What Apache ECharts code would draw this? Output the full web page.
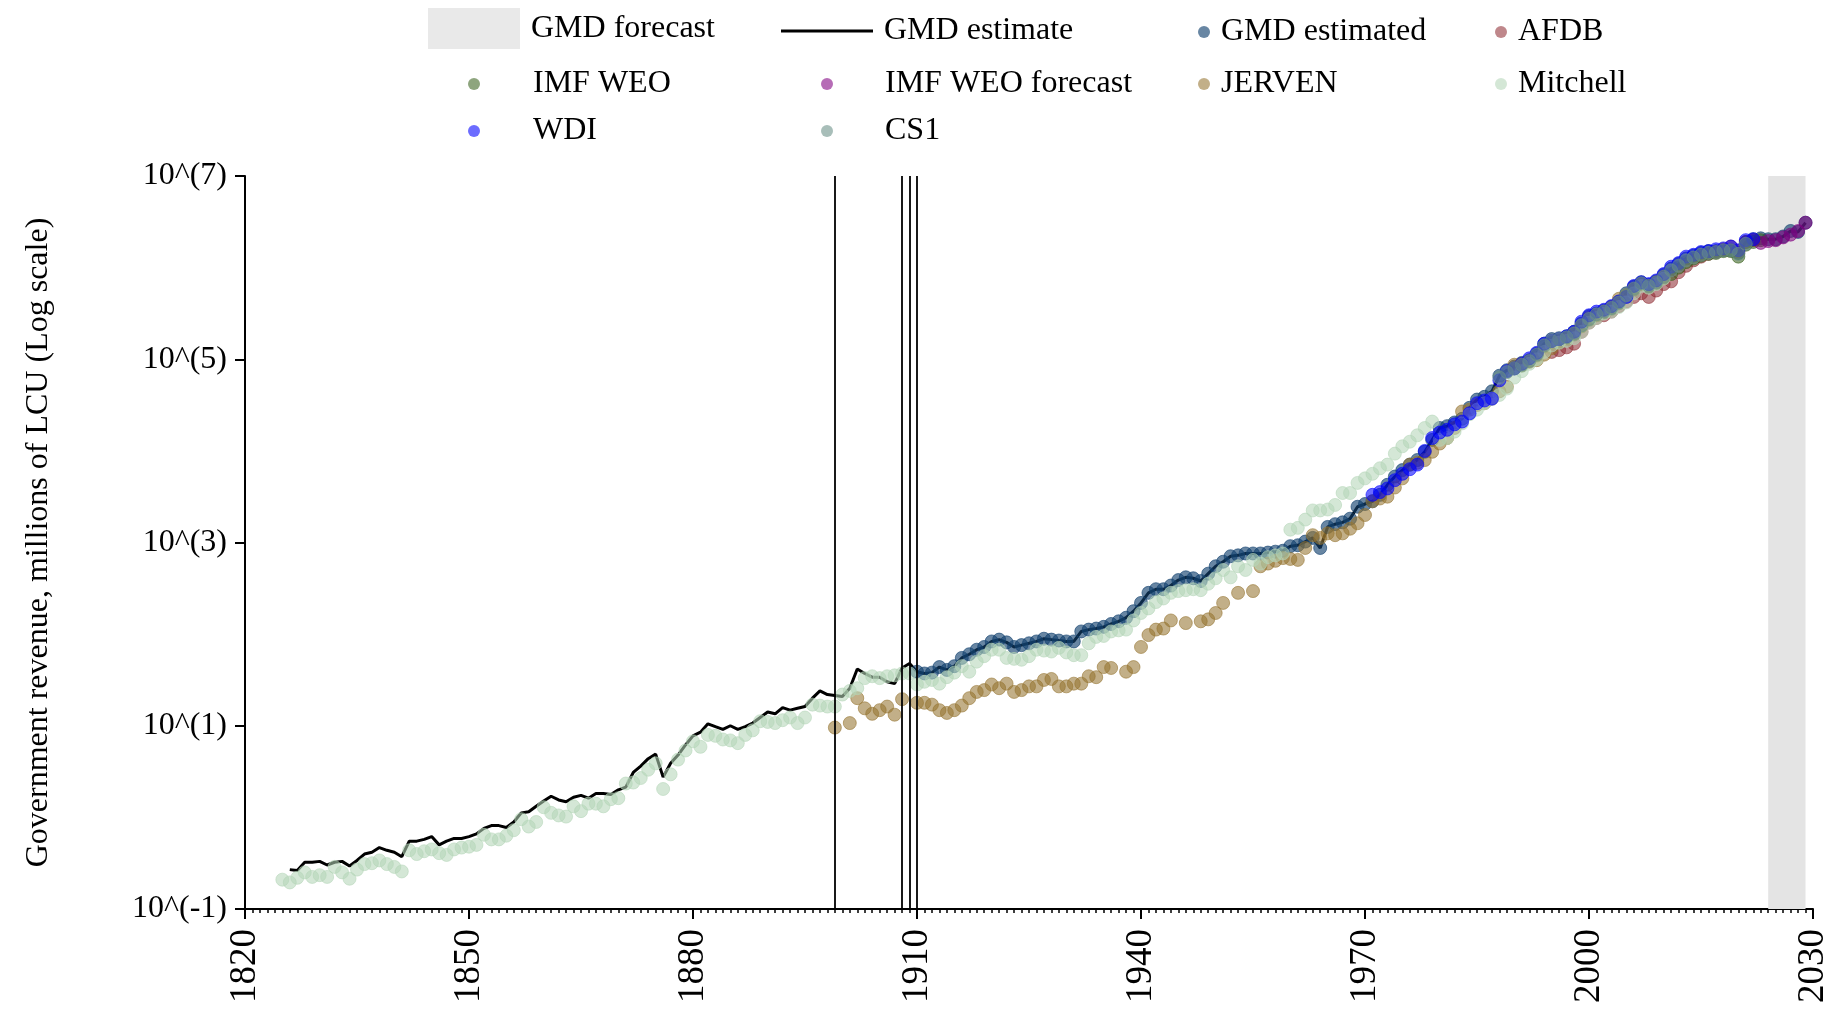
<!DOCTYPE html>
<html>
<head>
<meta charset="utf-8">
<script src="https://cdn.jsdelivr.net/npm/echarts@6/dist/echarts.min.js"></script>
<style>html,body{margin:0;padding:0;background:#fff}#chart{width:1837px;height:1015px}</style>
</head>
<body>
<div id="chart"></div>
<script>
// ---------------- DATA ----------------
const xRange = [1820, 2030];
const xStep = 30;
const yTicks = [0.1, 10, 1000, 100000, 10000000];
const forecastSpan = [2024, 2029];
const breakYears = [1899, 1908, 1909, 1910];

const gmdEstimateStart = 1826;
const gmdEstimate = [
  0.269, 0.263, 0.324, 0.324, 0.331, 0.302, 0.324, 0.331, 0.295, 0.339,
  0.398, 0.417, 0.468, 0.437, 0.417, 0.372, 0.550, 0.550, 0.575, 0.617,
  0.501, 0.550, 0.589, 0.589, 0.617, 0.661, 0.759, 0.813, 0.813, 0.776,
  0.891, 1.12, 1.15, 1.32, 1.51, 1.70, 1.55, 1.48, 1.66, 1.74,
  1.62, 1.82, 1.82, 1.78, 2.00, 2.14, 3.09, 3.63, 4.37, 4.90,
  2.75, 3.89, 4.79, 6.17, 7.76, 8.51, 10.5, 9.77, 9.12, 10.0,
  9.12, 9.77, 10.7, 12.3, 14.1, 13.5, 15.8, 14.8, 15.5, 16.2,
  20.0, 24.0, 21.9, 21.4, 20.9, 25.7, 41.7, 37.2, 33.9, 33.9,
  30.2, 28.8, 42.7, 47.9, 38.9, 37.2, 38.0, 43.7, 40.7, 44.7,
  55.0, 60.3, 67.6, 72.4, 83.2, 87.1, 81.3, 72.4, 75.9, 79.4,
  83.2, 89.1, 87.1, 85.1, 83.2, 83.2, 107, 112, 115, 120,
  129, 138, 151, 178, 219, 282, 309, 309, 339, 389,
  417, 407, 380, 457, 550, 617, 708, 724, 759, 759,
  759, 776, 794, 813, 912, 933, 1023, 1122, 871, 1479,
  1585, 1660, 1820, 2455, 2630, 2818, 3311, 4266, 5248, 6166,
  7079, 7943, 9772, 13180, 17780, 18620, 20420, 22390, 29510, 36310,
  38900, 44670, 66070, 75860, 83180, 91200, 97720, 114800, 147900, 166000,
  169800, 177800, 199500, 245500, 295100, 316200, 338800, 371500, 426600, 524800,
  616600, 691800, 645700, 707900, 831800, 977200, 1096000, 1259000, 1349000, 1445000,
  1514000, 1514000, 1549000, 1549000, 1445000, 1905000, 2042000, 2089000, 2042000, 2042000,
  2188000, 2512000, 2455000, 3090000
];
const gmdEstimatedFrom = 1910;

const mitchellStart = 1825;
const mitchell = [
  0.209, 0.195, 0.219, 0.251, 0.224, 0.234, 0.224, 0.288, 0.251, 0.214,
  0.269, 0.309, 0.316, 0.339, 0.309, 0.288, 0.257, 0.437, 0.398, 0.427,
  0.447, 0.407, 0.389, 0.447, 0.468, 0.479, 0.501, 0.646, 0.575, 0.575,
  0.631, 0.724, 0.955, 0.794, 0.891, 1.29, 1.12, 1.05, 1.02, 1.32,
  1.17, 1.41, 1.41, 1.32, 1.58, 1.62, 2.34, 2.40, 2.69, 3.31,
  3.89, 2.04, 2.95, 4.27, 5.37, 6.76, 5.89, 7.94, 7.76, 7.08,
  6.92, 6.46, 7.94, 8.91, 11.2, 11.0, 10.7, 11.5, 12.3, 10.7,
  12.3, 17.0, 16.6, 16.2, 16.2, 21.9, 24.0, 25.7, 33.1, 34.7,
  33.1, 34.7, 35.5, 37.2, 37.2, 28.2, 30.2, 31.6, 28.8, 33.9,
  38.0, 44.7, 38.9, 50.1, 57.5, 67.6, 67.6, 55.0, 53.7, 52.5,
  57.5, 67.6, 66.1, 64.6, 70.8, 63.1, 58.9, 58.9, 79.4, 93.3,
  95.5, 107, 110, 112, 141, 170, 191, 224, 245, 282,
  295, 302, 309, 302, 355, 407, 501, 417, 550, 501,
  646, 589, 692, 724, 759, 1380, 1445, 1778, 2239, 2239,
  2291, 2570, 3467, 3467, 4467, 5012, 5623, 6457, 7079, 9333,
  11220, 12590, 14790, 17780, 20890, 13180, 13800, 16220, 19950, 25120,
  28180, 33110, 37150, 40740, 47860, 63100, 74130, 89130, 100000, 120200,
  141300, 151400, 158500, 169800, 199500, 251200, 281800, 316200, 331100, 371500,
  416900, 524800, 631000, 602600, 660700, 758600
];

const jervenStart = 1899;
const jerven = [
  9.55, null, 10.7, 20.0, 15.5, 13.5, 14.8, 16.2, 13.2, 19.5,
  null, 17.8, 17.8, 17.0, 14.8, 13.8, 14.8, 16.6, 20.0, 23.4,
  24.5, 28.2, 25.7, 28.8, 23.4, 24.5, 26.9, 26.9, 31.6, 32.4,
  26.9, 26.9, 28.8, 28.8, 34.7, 33.9, 43.7, 42.7, null, 38.9,
  43.7, 72.4, 97.7, 112, 115, 141, null, 132, null, 138,
  145, 170, 219, null, 282, null, 295, 550, 589, 631,
  676, 661, 646, 871, 1202, 1122, 1259, 1202, 1259, 1413,
  1622, 1995, 2818, 3020, 3162, 3981, 5012, 7079, 7413, 7943,
  9772, 12020, 13800, 17780, 26920, 28180, 31620, 33110, 37150, 44670,
  50120, 87100, 89130, 93330, 97720, 112200, 131800, 151400, 166000, 190500,
  229100, 281800, 302000, 331100, 371500, 457100, 501200, 588800, 660700, 631000,
  691800, 794300
];

const wdiStart = 1971;
const wdi = [
  3311, 3548, 3890, 4786, 5623, 6310, 7079, 10000, 13800, 15850,
  16980, 19500, 20890, 25700, 33110, 35480, 37150, 58880, 74130, 79430,
  89130, 102300, 117500, 147900, 158500, 166000, 177800, 199500, 257000, 302000,
  331100, 346700, 380200, 426600, 478600, 631000, 691800, 660700, 724400, 851100,
  1023000, 1122000, 1318000, 1380000, 1479000, 1514000, 1585000, 1622000, 1698000, 1549000,
  1995000, 2042000
];

const cs1Start = 1988;
const cs1 = [
  63100, 72440, 79430, 87100, 95500, 112200, 141300, 158500, 166000, 173800,
  190500, 234400, 275400, 309000, 331100, 363100, 416900, 501200, 588800, 676100,
  631000, 691800, 794300, 933300, 1047000, 1202000, 1288000, 1380000, 1445000, 1479000,
  1549000, 1549000, 1413000, 1820000
];

const afdbStart = 1995;
const afdb = [
  120200, 125900, 134900, 147900, 199500, 251200, 281800, 302000, 331100, 380200,
  426600, 478600, 524800, 478600, 562300, 660700, 707900, 891300, 1047000, 1202000,
  1318000, 1413000, 1479000, 1585000, 1698000, 1514000, 1905000, 1995000
];

const imfWeoStart = 1990;
const imfWeo = [
  79430, 85110, 95500, 109600, 138000, 151400, 158500, 169800, 186200, 229100,
  269200, 302000, 323600, 354800, 407400, 478600, 575400, 660700, 616600, 676100,
  776200, 851100, 1000000, 1148000, 1259000, 1349000, 1413000, 1445000, 1514000, 1514000,
  1318000, 1778000, 1905000, 1995000
];

const imfWeoForecastStart = 2023;
const imfWeoForecast = [1862000, 1950000, 1995000, 2138000, 2291000, 2512000, 3090000];

// ---------------- BUILD ----------------
const FONT = "'Liberation Serif','Times New Roman',serif";
function pairs(start, vals) {
  const out = [];
  vals.forEach(function (v, i) { if (v !== null) out.push([start + i, v]); });
  return out;
}
const gmdLine = pairs(gmdEstimateStart, gmdEstimate);
const gmdEstimatedPts = gmdLine.filter(function (p) { return p[0] >= gmdEstimatedFrom; });

const SYM = 13;
function scatter(name, color, data) {
  return {
    name: name, type: 'scatter', data: data, symbol: 'circle', symbolSize: SYM, z: 3,
    itemStyle: { color: color, borderColor: color, borderWidth: 1 },
    emphasis: { disabled: true }, silent: true
  };
}

const colors = {
  forecast: '#e4e4e4',
  estimate: '#000000',
  estimated: 'rgba(19,65,111,0.8)',
  afdb: 'rgba(144,47,53,0.72)',
  imfWeo: 'rgba(59,99,32,0.72)',
  imfWeoForecast: 'rgba(128,0,128,0.72)',
  jerven: 'rgba(150,116,48,0.72)',
  mitchell: 'rgba(180,213,184,0.72)',
  wdi: 'rgba(0,0,255,0.72)',
  cs1: 'rgba(104,142,134,0.72)'
};

const series = [
  {
    name: 'GMD forecast', type: 'scatter', data: [], z: 1,
    itemStyle: { color: colors.forecast }, silent: true,
    markArea: {
      silent: true, itemStyle: { color: colors.forecast },
      data: [[{ xAxis: forecastSpan[0] }, { xAxis: forecastSpan[1] }]]
    }
  },
  {
    name: 'GMD estimate', type: 'line', data: gmdLine, showSymbol: false, symbol: 'none', z: 2,
    itemStyle: { color: colors.estimate }, lineStyle: { color: colors.estimate, width: 3 },
    silent: true,
    markLine: {
      silent: true, symbol: 'none', label: { show: false },
      lineStyle: { color: '#000', width: 1.8, type: 'solid' },
      data: breakYears.map(function (y) { return { xAxis: y }; })
    }
  },
  scatter('GMD estimated', colors.estimated, gmdEstimatedPts),
  scatter('AFDB', colors.afdb, pairs(afdbStart, afdb)),
  scatter('IMF WEO', colors.imfWeo, pairs(imfWeoStart, imfWeo)),
  scatter('IMF WEO forecast', colors.imfWeoForecast, pairs(imfWeoForecastStart, imfWeoForecast)),
  scatter('JERVEN', colors.jerven, pairs(jervenStart, jerven)),
  scatter('Mitchell', colors.mitchell, pairs(mitchellStart, mitchell)),
  scatter('WDI', colors.wdi, pairs(wdiStart, wdi)),
  scatter('CS1', colors.cs1, pairs(cs1Start, cs1))
];

const legendLayout = [
  { name: 'GMD forecast', left: 428, top: 8, w: 92, h: 41, icon: 'rect', pad: 6 },
  { name: 'GMD estimate', left: 781, top: 15, w: 92, h: 3, icon: 'rect', pad: 6 },
  { name: 'GMD estimated', left: 1198, top: 16, w: 12, h: 12, icon: 'circle', pad: 6 },
  { name: 'AFDB', left: 1495, top: 16, w: 12, h: 12, icon: 'circle', pad: 6 },
  { name: 'IMF WEO', left: 468, top: 68, w: 12, h: 12, icon: 'circle', pad: 48 },
  { name: 'IMF WEO forecast', left: 821, top: 68, w: 12, h: 12, icon: 'circle', pad: 47 },
  { name: 'JERVEN', left: 1198, top: 68, w: 12, h: 12, icon: 'circle', pad: 6 },
  { name: 'Mitchell', left: 1495, top: 68, w: 12, h: 12, icon: 'circle', pad: 6 },
  { name: 'WDI', left: 468, top: 115, w: 12, h: 12, icon: 'circle', pad: 48 },
  { name: 'CS1', left: 821, top: 115, w: 12, h: 12, icon: 'circle', pad: 47 }
];
const legends = legendLayout.map(function (L) {
  return {
    show: true, selectedMode: false, padding: 0, itemGap: 0,
    left: L.left, top: L.top, itemWidth: L.w, itemHeight: L.h,
    data: [{ name: L.name, icon: L.icon, itemStyle: { borderWidth: 0 } }],
    textStyle: { fontFamily: FONT, fontSize: 32, color: '#000', padding: [0, 0, 0, L.pad] }
  };
});

const option = {
  animation: false,
  backgroundColor: '#ffffff',
  legend: legends,
  grid: { left: 245, right: 24, top: 176, bottom: 106, containLabel: false },
  xAxis: {
    type: 'value', min: xRange[0], max: xRange[1], interval: xStep,
    axisLine: { show: true, onZero: false, lineStyle: { color: '#000', width: 2 } },
    axisTick: { show: true, length: 10, lineStyle: { color: '#000', width: 2 } },
    minorTick: { show: true, splitNumber: 30, length: 4, lineStyle: { color: '#000', width: 1.5 } },
    splitLine: { show: false },
    axisLabel: {
      rotate: 90, margin: 20, fontFamily: FONT, fontSize: 37, color: '#000',
      formatter: function (v) { return String(v); }
    }
  },
  yAxis: {
    type: 'log', logBase: 10, min: yTicks[0], max: yTicks[yTicks.length - 1],
    name: 'Government revenue, millions of LCU (Log scale)',
    nameLocation: 'middle', nameRotate: 90, nameGap: 190,
    nameTextStyle: { fontFamily: FONT, fontSize: 32, color: '#000' },
    axisLine: { show: true, onZero: false, lineStyle: { color: '#000', width: 2 } },
    axisTick: { show: true, length: 10, customValues: yTicks, lineStyle: { color: '#000', width: 2 } },
    minorTick: { show: false },
    splitLine: { show: false },
    axisLabel: {
      customValues: yTicks, margin: 18, fontFamily: FONT, fontSize: 32, color: '#000',
      formatter: function (v) { return '10^(' + Math.round(Math.log10(v)) + ')'; }
    }
  },
  series: series
};

const chart = echarts.init(document.getElementById('chart'), null, { renderer: 'canvas' });
chart.setOption(option);
</script>
</body>
</html>
